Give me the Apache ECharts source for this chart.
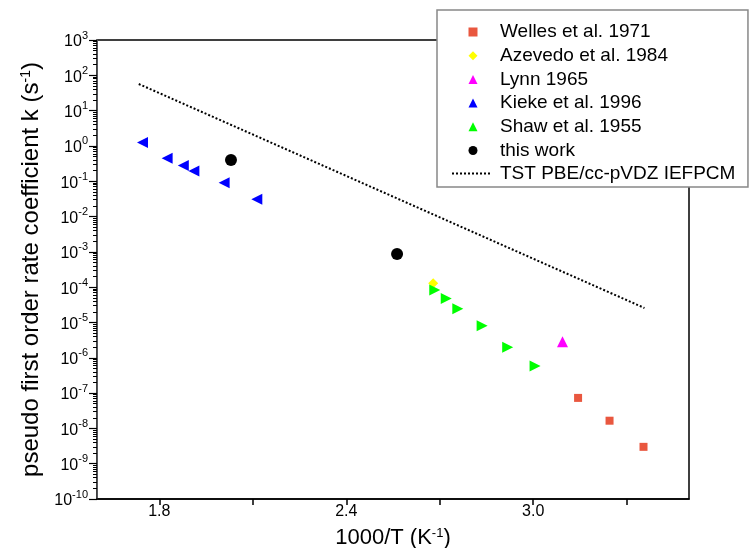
<!DOCTYPE html>
<html>
<head>
<meta charset="utf-8">
<title>rate coefficients</title>
<script src="https://cdn.jsdelivr.net/npm/echarts@6/dist/echarts.min.js"></script>
<style>
    html, body { margin:0; padding:0; background:#fff; }
    #main { width:754px; height:548px; }
</style>
</head>
<body>
<div id="main"></div>
<script>
// data (x = 1000/T, k in s^-1)
var wellesX = [3.144, 3.245, 3.354];
var wellesK = [7.3e-8, 1.65e-8, 3.0e-9];
var azevedoX = [2.679];
var azevedoK = [1.3e-4];
var lynnX = [3.094];
var lynnK = [2.86e-6];
var kiekeX = [1.746, 1.825, 1.877, 1.911, 2.008, 2.113];
var kiekeK = [1.24, 0.45, 0.28, 0.195, 0.091, 0.031];
var shawX = [2.684, 2.721, 2.758, 2.836, 2.918, 3.006];
var shawK = [8.3e-5, 4.8e-5, 2.45e-5, 8.1e-6, 1.98e-6, 5.85e-7];
var workX = [2.030, 2.563];
var workK = [0.40, 8.7e-4];
var tstX = [1.734, 3.357];
var tstK = [56.8, 2.57e-5];

var xTicks = [1.8, 2.1, 2.4, 2.7, 3.0, 3.3];
var xLabels = [1.8, 2.4, 3.0];
var yDecades = [-10, -9, -8, -7, -6, -5, -4, -3, -2, -1, 0, 1, 2];

// minor ticks 2..9 inside every decade
var yMinor = [];
yDecades.forEach(function (e) {
    for (var m = 2; m <= 9; m++) yMinor.push(m * Math.pow(10, e));
});

function pairs(xs, ys) {
    return xs.map(function (x, i) { return [x, ys[i]]; });
}

var chart = echarts.init(document.getElementById('main'));
var font = 'Liberation Sans, Arial, sans-serif';
var legendText = { fontSize: 19, lineHeight: 19, color: '#000', fontFamily: font };
// keep split lines "on" but invisible (log axis loses its ticks otherwise)
var hiddenSplit = { show: true, lineStyle: { color: 'rgba(0,0,0,0)', width: 0 } };

var option = {
    animation: false,
    backgroundColor: '#fff',
    textStyle: { fontFamily: font },
    grid: {
        left: 97, top: 40, right: 65, bottom: 49,
        outerBoundsMode: 'none',
        show: true, borderColor: '#000', borderWidth: 1.5
    },
    legend: [{
        orient: 'vertical',
        left: 437, top: 10,
        padding: [12.5, 80, 27, 31.5],
        itemWidth: 9, itemHeight: 9, itemGap: 4.7,
        backgroundColor: '#fff',
        borderColor: '#888', borderWidth: 1.5, borderRadius: 0,
        textStyle: Object.assign({ padding: [0, 0, 0, 17.5] }, legendText),
        data: ['Welles et al. 1971', 'Azevedo et al. 1984', 'Lynn 1965',
               { name: 'Kieke et al. 1996', symbolRotate: 90 },
               { name: 'Shaw et al. 1955', symbolRotate: -90 },
               'this work']
    }, {
        orient: 'vertical',
        left: 451, top: 164, z: 6,
        padding: 0,
        itemWidth: 40, itemHeight: 19,
        textStyle: Object.assign({ padding: [0, 0, 0, 3] }, legendText),
        data: [{ name: 'TST PBE/cc-pVDZ IEFPCM',
                 itemStyle: { color: 'rgba(0,0,0,0)', borderColor: 'rgba(0,0,0,0)' } }]
    }],
    xAxis: {
        type: 'value', min: 1.6, max: 3.5,
        name: '1000/T (K{s|-1})',
        nameLocation: 'middle', nameGap: 28,
        nameTextStyle: {
            fontSize: 22, color: '#000', fontFamily: font,
            rich: { s: { fontSize: 13, verticalAlign: 'top', color: '#000', fontFamily: font } }
        },
        axisLine: { lineStyle: { color: '#000', width: 1.5 } },
        axisTick: { customValues: xTicks, length: 6, lineStyle: { color: '#000', width: 1.5 } },
        axisLabel: {
            customValues: xLabels, margin: 5, fontSize: 16, color: '#000',
            formatter: function (v) { return v.toFixed(1); }
        },
        splitLine: { show: false }
    },
    yAxis: [{
        type: 'log', min: 1e-10, max: 1e3, interval: 1,
        name: 'pseudo first order rate coefficient k (s{s|-1})',
        nameLocation: 'middle', nameGap: 29,
        nameTextStyle: {
            fontSize: 24, color: '#000', fontFamily: font,
            rich: { s: { fontSize: 14, verticalAlign: 'top', color: '#000', fontFamily: font } }
        },
        axisTick: { show: true, length: 8, lineStyle: { color: '#000', width: 1.2 } },
        axisLabel: {
            margin: 9, color: '#000',
            formatter: function (v) {
                return '{b|10}{s|' + Math.round(Math.log10(v)) + '}';
            },
            rich: {
                b: { fontSize: 16, color: '#000', fontFamily: font, padding: [4, 0, 0, 0] },
                s: { fontSize: 11, verticalAlign: 'top', color: '#000', fontFamily: font }
            }
        },
        splitLine: hiddenSplit
    }, {
        // second copy of the scale only for the 2..9 minor ticks
        type: 'log', min: 1e-10, max: 1e3, position: 'left',
        axisTick: { show: true, customValues: yMinor, length: 4, lineStyle: { color: '#000', width: 1 } },
        axisLabel: { show: false },
        splitLine: hiddenSplit
    }],
    series: [{
        name: 'Welles et al. 1971', type: 'scatter',
        symbol: 'rect', symbolSize: 8,
        itemStyle: { color: '#E9573F', opacity: 1 },
        data: pairs(wellesX, wellesK)
    }, {
        name: 'Azevedo et al. 1984', type: 'scatter',
        symbol: 'diamond', symbolSize: 10,
        itemStyle: { color: '#FFFF00', opacity: 1 },
        data: pairs(azevedoX, azevedoK)
    }, {
        name: 'Lynn 1965', type: 'scatter',
        symbol: 'triangle', symbolSize: 11,
        itemStyle: { color: '#FF00FF', opacity: 1 },
        data: pairs(lynnX, lynnK)
    }, {
        name: 'Kieke et al. 1996', type: 'scatter',
        symbol: 'triangle', symbolSize: 11, symbolRotate: 90,
        itemStyle: { color: '#0000FF', opacity: 1 },
        data: pairs(kiekeX, kiekeK)
    }, {
        name: 'Shaw et al. 1955', type: 'scatter',
        symbol: 'triangle', symbolSize: 11, symbolRotate: -90,
        itemStyle: { color: '#00FF00', opacity: 1 },
        data: pairs(shawX, shawK)
    }, {
        name: 'this work', type: 'scatter',
        symbol: 'circle', symbolSize: 12,
        itemStyle: { color: '#000', opacity: 1 },
        data: pairs(workX, workK)
    }, {
        name: 'TST PBE/cc-pVDZ IEFPCM', type: 'line',
        symbol: 'none',
        itemStyle: { color: '#000' },
        lineStyle: { color: '#000', width: 2, type: [2, 2] },
        data: pairs(tstX, tstK)
    }]
};

chart.setOption(option);
window.onresize = function () { chart.resize(); };
</script>
</body>
</html>
